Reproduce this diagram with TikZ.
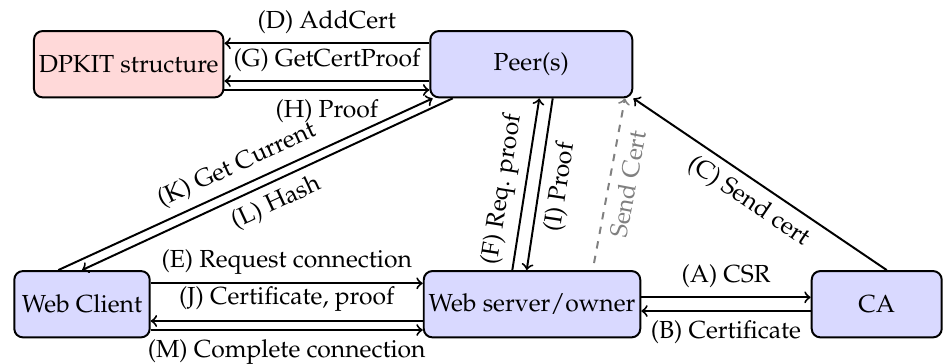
\documentclass[tikz,border=0pt]{standalone}
\usepackage[T1]{fontenc}
\usepackage{mathpazo}
\usetikzlibrary{calc}
\def\pxu{0.405}
\begin{document}
\begin{tikzpicture}[x=\pxu pt,y=-\pxu pt,
  box/.style={draw, thick, rounded corners=3.5pt, minimum height=66.3*\pxu pt, inner sep=2pt, fill=blue!15},
  ln/.style={thick},
  lbl/.style={midway}]
\useasboundingbox (0,0) rectangle (945,363);
\node[box, fill=red!15, minimum width=188.7*\pxu pt] (dpkit) at (128.7,64.2) {DPKIT structure};
\node[box, minimum width=202*\pxu pt] (peer) at (531.3,64.2) {Peer(s)};
\node[box, minimum width=135.4*\pxu pt] (wc) at (82,304.2) {Web Client};
\node[box, minimum width=214*\pxu pt] (ws) at (532,304.2) {Web server/owner};
\node[box, minimum width=130*\pxu pt] (ca) at (876.7,304.2) {CA};
% DPKIT <-> Peer
\draw[ln,->] ($(peer.west)+(0,-20.9)$) -- ($(dpkit.east)+(0,-20.9)$) node[lbl,above]{(D) AddCert};
\draw[ln,->] ($(peer.west)+(0,16.8)$) -- ($(dpkit.east)+(0,16.8)$) node[lbl,above]{(G) GetCertProof};
\draw[ln,->] ($(dpkit.east)+(0,25.8)$) -- ($(peer.west)+(0,25.8)$) node[lbl,below]{(H) Proof};
% Web client <-> Peer
\draw[ln,->] ($(wc.north)+(-23.7,0)$) -- ($(peer.south)+(-98.6,0)$) node[lbl,above,sloped]{(K) Get Current};
\draw[ln,<-] (wc.north) -- ($(peer.south)+(-78.6,0)$) node[lbl,below,sloped]{(L) Hash};
% Web server <-> Peer
\draw[ln,->] ($(ws.north)+(-19.7,0)$) -- ($(peer.south)+(8,0)$) node[pos=0.45,above,sloped]{(F) Req. proof};
\draw[ln,<-] ($(ws.north)+(-5.3,0)$) -- ($(peer.south)+(21.4,0)$) node[lbl,below,sloped]{(I) Proof};
\draw[ln,->,dashed,gray] ($(ws.north)+(62,-7)$) -- ($(peer.south east)+(-8.3,0)$) node[lbl,below,sloped]{Send Cert};
% CA -> Peer
\draw[ln,<-] (peer.south east) -- ($(ca.north)+(10,0)$) node[lbl,below,sloped]{(C) Send cert};
% Web client <-> Web server
\draw[ln,->] ($(wc.east)+(0,-20.9)$) -- ($(ws.west)+(0,-20.9)$) node[lbl,above]{(E) Request connection};
\draw[ln,<-] ($(wc.east)+(0,16.8)$) -- ($(ws.west)+(0,16.8)$) node[lbl,above]{(J) Certificate, proof};
\draw[ln,->] ($(wc.east)+(0,25.8)$) -- ($(ws.west)+(0,25.8)$) node[lbl,below]{(M) Complete connection};
% Web server <-> CA
\draw[ln,->] ($(ws.east)+(0,-6.9)$) -- ($(ca.west)+(0,-6.9)$) node[lbl,above]{(A) CSR};
\draw[ln,<-] ($(ws.east)+(0,6.8)$) -- ($(ca.west)+(0,6.8)$) node[lbl,below]{(B) Certificate};
\end{tikzpicture}
\end{document}
